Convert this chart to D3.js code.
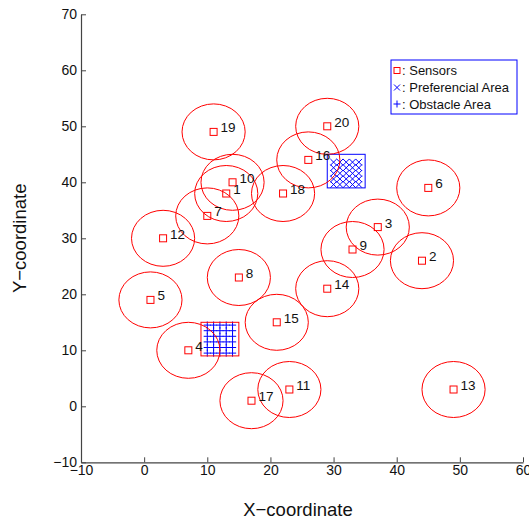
<!DOCTYPE html>
<html><head><meta charset="utf-8">
<script src="https://cdn.jsdelivr.net/npm/d3@7"></script>
<style>
html,body{margin:0;padding:0;background:#fff;}
svg{display:block;font-family:"Liberation Sans",Arial,Helvetica,sans-serif;}
</style></head>
<body><svg id="c" width="529" height="521"></svg>
<script>
// Sensor data
const sensorIds = [1,2,3,4,5,6,7,8,9,10,11,12,13,14,15,16,17,18,19,20];
const sensorX   = [13,44,37,7,1,45,10,15,33,14,23,3,49,29,21,26,17,22,11,29];
const sensorY   = [38,26,32,10,19,39,34,23,28,40,3,30,3,21,15,44,1,38,49,50];
const sensingRadius = 5;
// Preferential area (x markers) and its bounds
const prefBounds = [29, 35, 39, 45];
const prefX = [30,31,32,33,34];
const prefY = [39.6,40.6,41.6,42.6,43.6];
// Obstacle area (+ markers) and its bounds
const obsBounds = [9, 15, 9, 15];
const obsX = [10,11,12,13,14];
const obsY = [9.5,10.5,11.5,12.5,13.5,14.5];
// Axis ticks
const xTicks = [-10,0,10,20,30,40,50,60];
const yTicks = [-10,0,10,20,30,40,50,60,70];
const legendLabels = [": Sensors", ": Preferencial Area", ": Obstacle Area"];

const svg = d3.select("#c");
const x = d3.scaleLinear().domain([-10,60]).range([81,523]);
const y = d3.scaleLinear().domain([-10,70]).range([462.3,14.3]);
const RED = "#ff0000", BLUE = "#0000ff";
const fmt = d => (d<0 ? "\u2212"+Math.abs(d) : String(d));

// Axes
const gx = svg.append("g").attr("transform",`translate(0,${y(-10)})`)
  .call(d3.axisBottom(x).tickValues(xTicks).tickFormat(fmt).tickSizeInner(-5).tickSizeOuter(0).tickPadding(3));
const gy = svg.append("g").attr("transform",`translate(${x(-10)},0)`)
  .call(d3.axisLeft(y).tickValues(yTicks).tickFormat(fmt).tickSizeInner(-5).tickSizeOuter(0).tickPadding(4));
[gx,gy].forEach(g=>{
  g.select(".domain").attr("stroke","#444").attr("stroke-width",1.2);
  g.selectAll(".tick line").attr("stroke","#444");
  g.selectAll(".tick text").attr("font-size",14).attr("fill","#111").attr("font-family","Liberation Sans, Arial, sans-serif");
});

// Areas
function area(b, color, xs, ys, kind){
  const g = svg.append("g");
  const pts = [];
  ys.forEach(yy=>xs.forEach(xx=>pts.push([xx,yy])));
  const p = d3.path();
  pts.forEach(([a,c])=>{
    const px=x(a), py=y(c);
    if(kind==="x"){const s=3.2; p.moveTo(px-s,py-s);p.lineTo(px+s,py+s);p.moveTo(px-s,py+s);p.lineTo(px+s,py-s);}
    else {const s=3.6; p.moveTo(px-s,py);p.lineTo(px+s,py);p.moveTo(px,py-s);p.lineTo(px,py+s);}
  });
  g.append("path").attr("d",p.toString()).attr("stroke",BLUE).attr("stroke-width",1).attr("fill","none");
  g.append("rect").attr("x",x(b[0])).attr("y",y(b[3])).attr("width",x(b[1])-x(b[0])).attr("height",y(b[2])-y(b[3]))
    .attr("fill","none").attr("stroke",color).attr("stroke-width",1);
}
area(prefBounds, BLUE, prefX, prefY, "x");
area(obsBounds, RED, obsX, obsY, "+");

// Sensors
const sensors = sensorIds.map((id,i)=>({id, sx:sensorX[i], sy:sensorY[i]}));
svg.append("g").selectAll("ellipse").data(sensors).join("ellipse")
  .attr("cx",d=>x(d.sx)).attr("cy",d=>y(d.sy))
  .attr("rx",d=>x(d.sx+sensingRadius)-x(d.sx)).attr("ry",d=>y(d.sy)-y(d.sy+sensingRadius))
  .attr("fill","none").attr("stroke",RED).attr("stroke-width",1);
svg.append("g").selectAll("rect").data(sensors).join("rect")
  .attr("x",d=>x(d.sx)-3.5).attr("y",d=>y(d.sy)-3.5).attr("width",7).attr("height",7)
  .attr("fill","none").attr("stroke",RED).attr("stroke-width",1);
svg.append("g").selectAll("text").data(sensors).join("text")
  .attr("x",d=>x(d.sx+1.1)).attr("y",d=>y(d.sy+0.75)).attr("dy","0.35em")
  .attr("font-size",13.5).attr("fill","#111").text(d=>d.id);

// Axis labels
svg.append("text").attr("x",(x(-10)+x(60))/2 - 4).attr("y",516).attr("text-anchor","middle")
  .attr("font-size",18.5).attr("fill","#111").text("X\u2212coordinate");
svg.append("text").attr("transform",`translate(26,${(y(-10)+y(70))/2}) rotate(-90)`).attr("text-anchor","middle")
  .attr("font-size",18.5).attr("fill","#111").text("Y\u2212coordinate");

// Legend
const lg = svg.append("g");
lg.append("rect").attr("x",391).attr("y",60).attr("width",126).attr("height",54)
  .attr("fill","#fff").attr("stroke",BLUE).attr("stroke-width",1);
const rowsY = [70.5,87.5,104];
lg.append("rect").attr("x",394).attr("y",rowsY[0]-3).attr("width",6).attr("height",6)
  .attr("fill","none").attr("stroke",RED);
lg.append("path").attr("d",`M394,${rowsY[1]-3}L400,${rowsY[1]+3}M394,${rowsY[1]+3}L400,${rowsY[1]-3}`).attr("stroke",BLUE);
lg.append("path").attr("d",`M393.5,${rowsY[2]}L400.5,${rowsY[2]}M397,${rowsY[2]-3.5}L397,${rowsY[2]+3.5}`).attr("stroke",BLUE);
lg.selectAll("text.l").data(legendLabels).join("text").attr("class","l")
  .attr("x",402).attr("y",(d,i)=>rowsY[i]).attr("dy","0.35em").attr("font-size",13).attr("fill","#111").text(d=>d);
</script></body></html>
